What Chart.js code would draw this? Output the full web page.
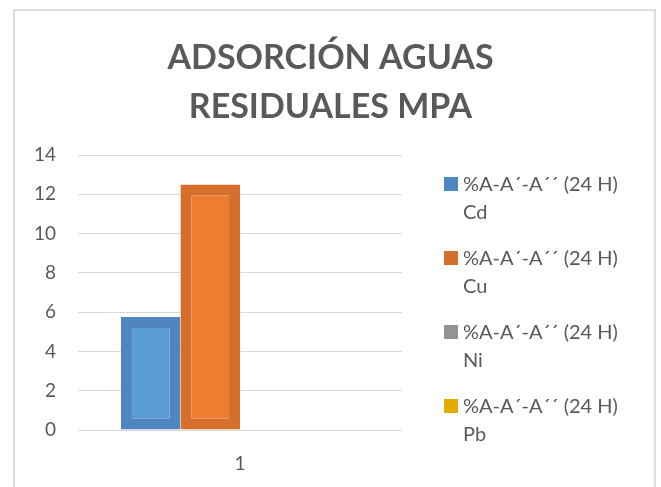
<!DOCTYPE html>
<html>
<head>
<meta charset="utf-8">
<script src="https://cdn.jsdelivr.net/npm/chart.js@4.4.1/dist/chart.umd.min.js"></script>
<style>
  html, body { margin: 0; padding: 0; background: #fff; }
  #wrap { position: relative; width: 661px; height: 487px; overflow: hidden; }
  #frame { position: absolute; left: 13px; top: 9px; width: 643px; height: 520px; border: 2px solid #dedede; box-sizing: border-box; }
  #chart { position: absolute; left: 0; top: 0; }
</style>
</head>
<body>
<div id="wrap">
  <div id="frame"></div>
  <canvas id="chart" width="661" height="487"></canvas>
</div>
<script>
// Data
const categories = ['1'];
const seriesNames = ['%A-A´-A´´ (24 H) Cd', '%A-A´-A´´ (24 H) Cu', '%A-A´-A´´ (24 H) Ni', '%A-A´-A´´ (24 H) Pb'];
const cdValues = [5.75];
const cuValues = [12.5];
const niValues = [0];
const pbValues = [0];
const yTicks = [0, 2, 4, 6, 8, 10, 12, 14];

// office palette: fill + darker edge
const fills = ['#5b9bd5', '#ed7d31', '#a5a5a5', '#ffc000'];
const edges = ['#4f86bf', '#d56f2b', '#939393', '#e2ac00'];
const textColor = '#595959';
const FONT = 'Lato';

// legend drawn by hand so the two-line labels sit like the original
const sideLegend = {
  id: 'sideLegend',
  afterDraw(chart) {
    const c = chart.ctx;
    const area = chart.chartArea;
    const x0 = area.right + 42;
    let y = area.top + 29;
    c.save();
    c.font = '20px ' + FONT;
    c.textBaseline = 'middle';
    c.textAlign = 'left';
    chart.data.datasets.forEach((ds) => {
      const label = ds.label;
      const cut = label.lastIndexOf(' ');
      const lines = [label.slice(0, cut), label.slice(cut + 1)];
      c.fillStyle = ds.legendColor;
      c.fillRect(x0, y - 7, 14, 14);
      c.fillStyle = textColor;
      c.fillText(lines[0], x0 + 19, y + 1);
      c.fillText(lines[1], x0 + 19, y + 29);
      y += 74;
    });
    c.restore();
  }
};

const allValues = [cdValues, cuValues, niValues, pbValues];

new Chart(document.getElementById('chart'), {
  type: 'bar',
  data: {
    labels: categories,
    datasets: allValues.map((vals, i) => ({
      label: seriesNames[i],
      data: vals,
      backgroundColor: fills[i],
      borderColor: edges[i],
      legendColor: edges[i],
      borderWidth: 11,
      borderSkipped: false,
      categoryPercentage: 0.735,
      barPercentage: 1
    }))
  },
  options: {
    responsive: false,
    animation: false,
    layout: { padding: 0 },
    plugins: {
      legend: { display: false },
      tooltip: { enabled: false },
      title: {
        display: true,
        text: ['ADSORCIÓN AGUAS', 'RESIDUALES MPA'],
        color: textColor,
        font: { family: FONT, size: 34, weight: 'bold', lineHeight: '49px' },
        padding: { top: 34, bottom: 23 }
      }
    },
    scales: {
      x: {
        afterFit(scale) { scale.height = 57; },
        grid: { display: false, drawTicks: false },
        border: { display: false },
        ticks: { color: textColor, font: { family: FONT, size: 19 }, padding: 22 }
      },
      y: {
        min: 0,
        max: 14,
        afterFit(scale) { scale.width = 78; },
        afterBuildTicks(scale) { scale.ticks = yTicks.map(v => ({ value: v })); },
        grid: { color: '#d9d9d9', lineWidth: 1, drawTicks: false },
        border: { display: false },
        ticks: { color: textColor, font: { family: FONT, size: 19 }, padding: 22 }
      },
      // empty right-hand axis only keeps room for the legend
      side: {
        position: 'right',
        afterFit(scale) { scale.width = 259; },
        grid: { display: false, drawTicks: false },
        border: { display: false },
        ticks: { display: false }
      }
    }
  },
  plugins: [sideLegend]
});
</script>
</body>
</html>
